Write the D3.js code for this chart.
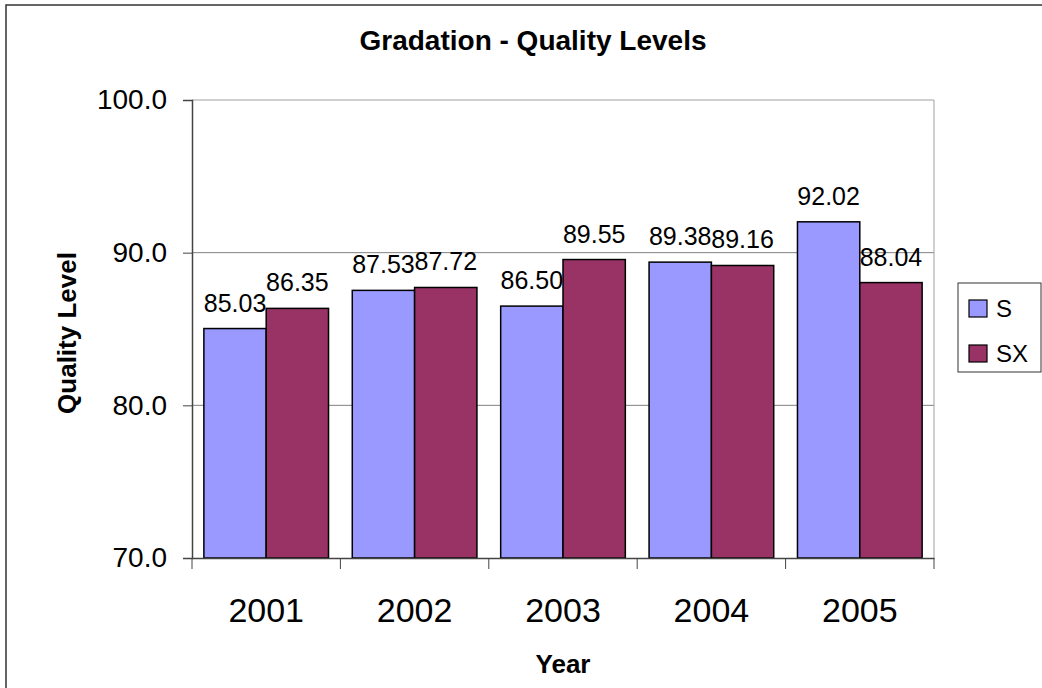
<!DOCTYPE html>
<html>
<head>
<meta charset="utf-8">
<script src="https://cdn.jsdelivr.net/npm/d3@7"></script>
<style>
  html, body { margin: 0; padding: 0; background: #fff; }
  svg { display: block; font-family: Arial, "Liberation Sans", sans-serif; }
</style>
</head>
<body>
<svg id="chart" width="1042" height="688"></svg>
<script>
/* ---------- data ---------- */
const years   = ['2001', '2002', '2003', '2004', '2005'];
const series  = ['S', 'SX'];
const sValues  = [85.03, 87.53, 86.50, 89.38, 92.02];
const sxValues = [86.35, 87.72, 89.55, 89.16, 88.04];
const yTicks  = [70, 80, 90, 100];
const colours = ['#9999ff', '#993366'];

const rows = years.map((y, i) => ({ year: y, S: sValues[i], SX: sxValues[i] }));

/* ---------- layout ---------- */
const svg = d3.select('#chart');
const plot = { left: 192, right: 934, top: 100, bottom: 558 };

// outer chart border
svg.append('rect')
  .attr('x', 6).attr('y', 5)
  .attr('width', 1100).attr('height', 720)
  .attr('fill', '#fff')
  .attr('stroke', '#333').attr('stroke-width', 1.5);

const x0 = d3.scaleBand().domain(years)
  .range([plot.left, plot.right])
  .paddingInner(0.16).paddingOuter(0.08);

const x1 = d3.scaleBand().domain(series).range([0, x0.bandwidth()]);

const y = d3.scaleLinear().domain([70, 100]).range([plot.bottom, plot.top]);

const colour = d3.scaleOrdinal().domain(series).range(colours);

/* ---------- grid ---------- */
svg.append('g')
  .selectAll('line')
  .data(yTicks.filter(t => t > 70))
  .join('line')
    .attr('x1', plot.left).attr('x2', plot.right)
    .attr('y1', d => y(d)).attr('y2', d => y(d))
    .attr('stroke', d => d === 100 ? '#a0a0a0' : '#808080')
    .attr('stroke-width', 1);

// right border of plot area
svg.append('line')
  .attr('x1', plot.right).attr('x2', plot.right)
  .attr('y1', plot.top).attr('y2', plot.bottom)
  .attr('stroke', '#a0a0a0');

/* ---------- bars ---------- */
const groups = svg.append('g')
  .selectAll('g')
  .data(rows)
  .join('g')
    .attr('transform', d => `translate(${x0(d.year)},0)`);

groups.selectAll('rect')
  .data(d => series.map(k => ({ key: k, value: d[k] })))
  .join('rect')
    .attr('x', d => x1(d.key))
    .attr('y', d => y(d.value))
    .attr('width', x1.bandwidth())
    .attr('height', d => plot.bottom - y(d.value))
    .attr('fill', d => colour(d.key))
    .attr('stroke', '#000')
    .attr('stroke-width', 1.5);

groups.selectAll('text')
  .data(d => series.map(k => ({ key: k, value: d[k] })))
  .join('text')
    .attr('x', d => x1(d.key) + x1.bandwidth() / 2)
    .attr('y', d => y(d.value) - 17)
    .attr('text-anchor', 'middle')
    .style('font-size', '25px')
    .text(d => d3.format('.2f')(d.value));

/* ---------- axes ---------- */
const yAxis = svg.append('g')
  .attr('transform', `translate(${plot.left},0)`)
  .call(d3.axisLeft(y).tickValues(yTicks).tickFormat(d3.format('.1f'))
          .tickSize(9).tickPadding(16));
yAxis.select('.domain').attr('stroke', '#444').attr('stroke-width', 1.5);
yAxis.selectAll('.tick line').attr('stroke', '#444');
yAxis.selectAll('.tick text')
  .style('font-size', '28px').style('font-family', 'Arial, "Liberation Sans", sans-serif')
  .attr('fill', '#000');

const xAxis = svg.append('g')
  .attr('transform', `translate(0,${plot.bottom})`)
  .call(d3.axisBottom(x0).tickSize(0).tickPadding(40));
xAxis.select('.domain').attr('stroke', '#444').attr('stroke-width', 1.5);
xAxis.selectAll('.tick text')
  .style('font-size', '34px').style('font-family', 'Arial, "Liberation Sans", sans-serif')
  .attr('fill', '#000');

// category separator ticks
const bounds = years.map(d => x0(d) - x0.step() * x0.paddingOuter())
  .concat([plot.right]);
svg.append('g')
  .selectAll('line')
  .data(bounds)
  .join('line')
    .attr('x1', d => d).attr('x2', d => d)
    .attr('y1', plot.bottom).attr('y2', plot.bottom + 11)
    .attr('stroke', '#444');

/* ---------- titles ---------- */
svg.append('text')
  .attr('x', 533).attr('y', 50)
  .attr('text-anchor', 'middle')
  .style('font-size', '28px').style('font-weight', 'bold')
  .text('Gradation - Quality Levels');

svg.append('text')
  .attr('x', (plot.left + plot.right) / 2).attr('y', 673)
  .attr('text-anchor', 'middle')
  .style('font-size', '26px').style('font-weight', 'bold')
  .text('Year');

svg.append('text')
  .attr('transform', `translate(76,333) rotate(-90)`)
  .attr('text-anchor', 'middle')
  .style('font-size', '26px').style('font-weight', 'bold')
  .text('Quality Level');

/* ---------- legend ---------- */
const lg = svg.append('g').attr('transform', 'translate(958,283)');
lg.append('rect')
  .attr('width', 83).attr('height', 89)
  .attr('fill', '#fff').attr('stroke', '#333').attr('stroke-width', 1);

const item = lg.selectAll('g.item')
  .data(series)
  .join('g')
    .attr('class', 'item')
    .attr('transform', (d, i) => `translate(11,${17 + i * 45})`);
item.append('rect')
  .attr('width', 18).attr('height', 17)
  .attr('fill', d => colour(d))
  .attr('stroke', '#000').attr('stroke-width', 1.2);
item.append('text')
  .attr('x', 27).attr('y', 17)
  .style('font-size', '24px')
  .text(d => d);
</script>
</body>
</html>
